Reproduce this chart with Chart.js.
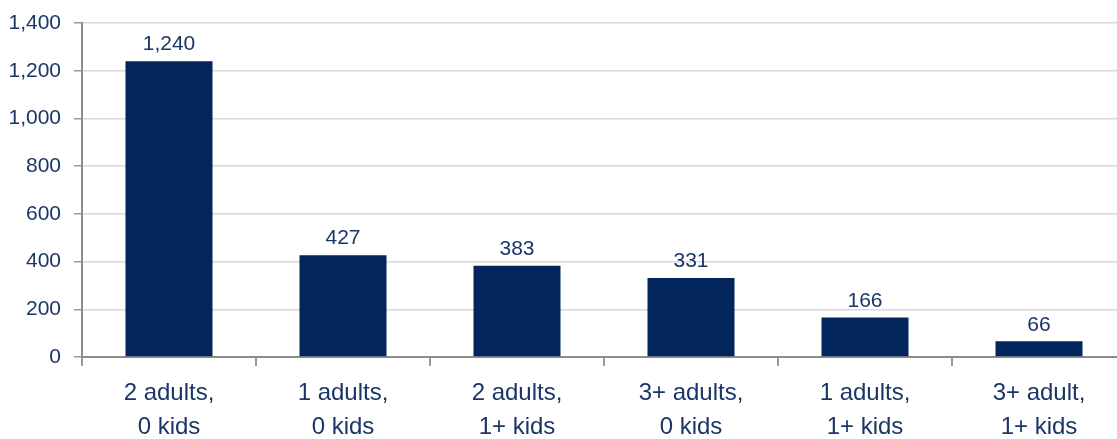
<!doctype html>
<html>
<head>
	<title>Households by composition</title>
	<script src="https://cdn.jsdelivr.net/npm/chart.js@4/dist/chart.umd.min.js"></script>
	<style>
		html, body { margin: 0; padding: 0; overflow: hidden; background: #fff; }
		#container { width: 1126px; height: 439px; }
	</style>
</head>
<body>
<div id="container">
	<canvas id="canvas"></canvas>
</div>
<script>
	var categories = [
		["2 adults,", "0 kids"],
		["1 adults,", "0 kids"],
		["2 adults,", "1+ kids"],
		["3+ adults,", "0 kids"],
		["1 adults,", "1+ kids"],
		["3+ adult,", "1+ kids"]
	];
	var households = [1240, 427, 383, 331, 166, 66];

	var textColor = "#1A3667";
	var barColor = "#02255B";
	var fontFamily = "'Liberation Sans', Arial, sans-serif";

	// numbers above the bars
	var valueLabels = {
		id: "valueLabels",
		afterDatasetsDraw: function(chart) {
			var ctx = chart.ctx;
			var meta = chart.getDatasetMeta(0);
			ctx.save();
			ctx.fillStyle = textColor;
			ctx.font = "21px " + fontFamily;
			ctx.textAlign = "center";
			ctx.textBaseline = "bottom";
			meta.data.forEach(function(bar, i) {
				ctx.fillText(households[i].toLocaleString("en-US"), bar.x, bar.y - 6);
			});
			ctx.restore();
		}
	};

	var ctx = document.getElementById("canvas").getContext("2d");
	new Chart(ctx, {
		type: "bar",
		data: {
			labels: categories,
			datasets: [{
				data: households,
				backgroundColor: barColor,
				barPercentage: 0.5,
				categoryPercentage: 1.0
			}]
		},
		plugins: [valueLabels],
		options: {
			responsive: true,
			maintainAspectRatio: false,
			animation: false,
			layout: { padding: { top: 23, right: 0, left: 0, bottom: 0 } },
			plugins: {
				legend: { display: false },
				tooltip: { enabled: false }
			},
			scales: {
				x: {
					offset: true,
					grid: {
						offset: true,
						drawOnChartArea: false,
						tickLength: 9,
						tickColor: "#9a9a9a",
						lineWidth: 2
					},
					border: { color: "#8c8c8c", width: 2 },
					ticks: {
						color: textColor,
						padding: 10,
						maxRotation: 0,
						font: { family: fontFamily, size: 24, lineHeight: 1.42 }
					},
					afterFit: function(scale) { scale.height = 82; }
				},
				y: {
					min: 0,
					max: 1400,
					ticks: {
						stepSize: 200,
						color: textColor,
						padding: 13,
						font: { family: fontFamily, size: 21 },
						callback: function(v) { return v.toLocaleString("en-US"); }
					},
					grid: {
						color: "#d9d9d9",
						lineWidth: 1.5,
						tickLength: 8,
						tickColor: "#9a9a9a"
					},
					border: { color: "#8c8c8c", width: 2 },
					afterFit: function(scale) {
						scale.width = 82;
						scale.paddingTop = 0;
						scale.paddingBottom = 0;
					}
				}
			}
		}
	});
</script>
</body>
</html>
